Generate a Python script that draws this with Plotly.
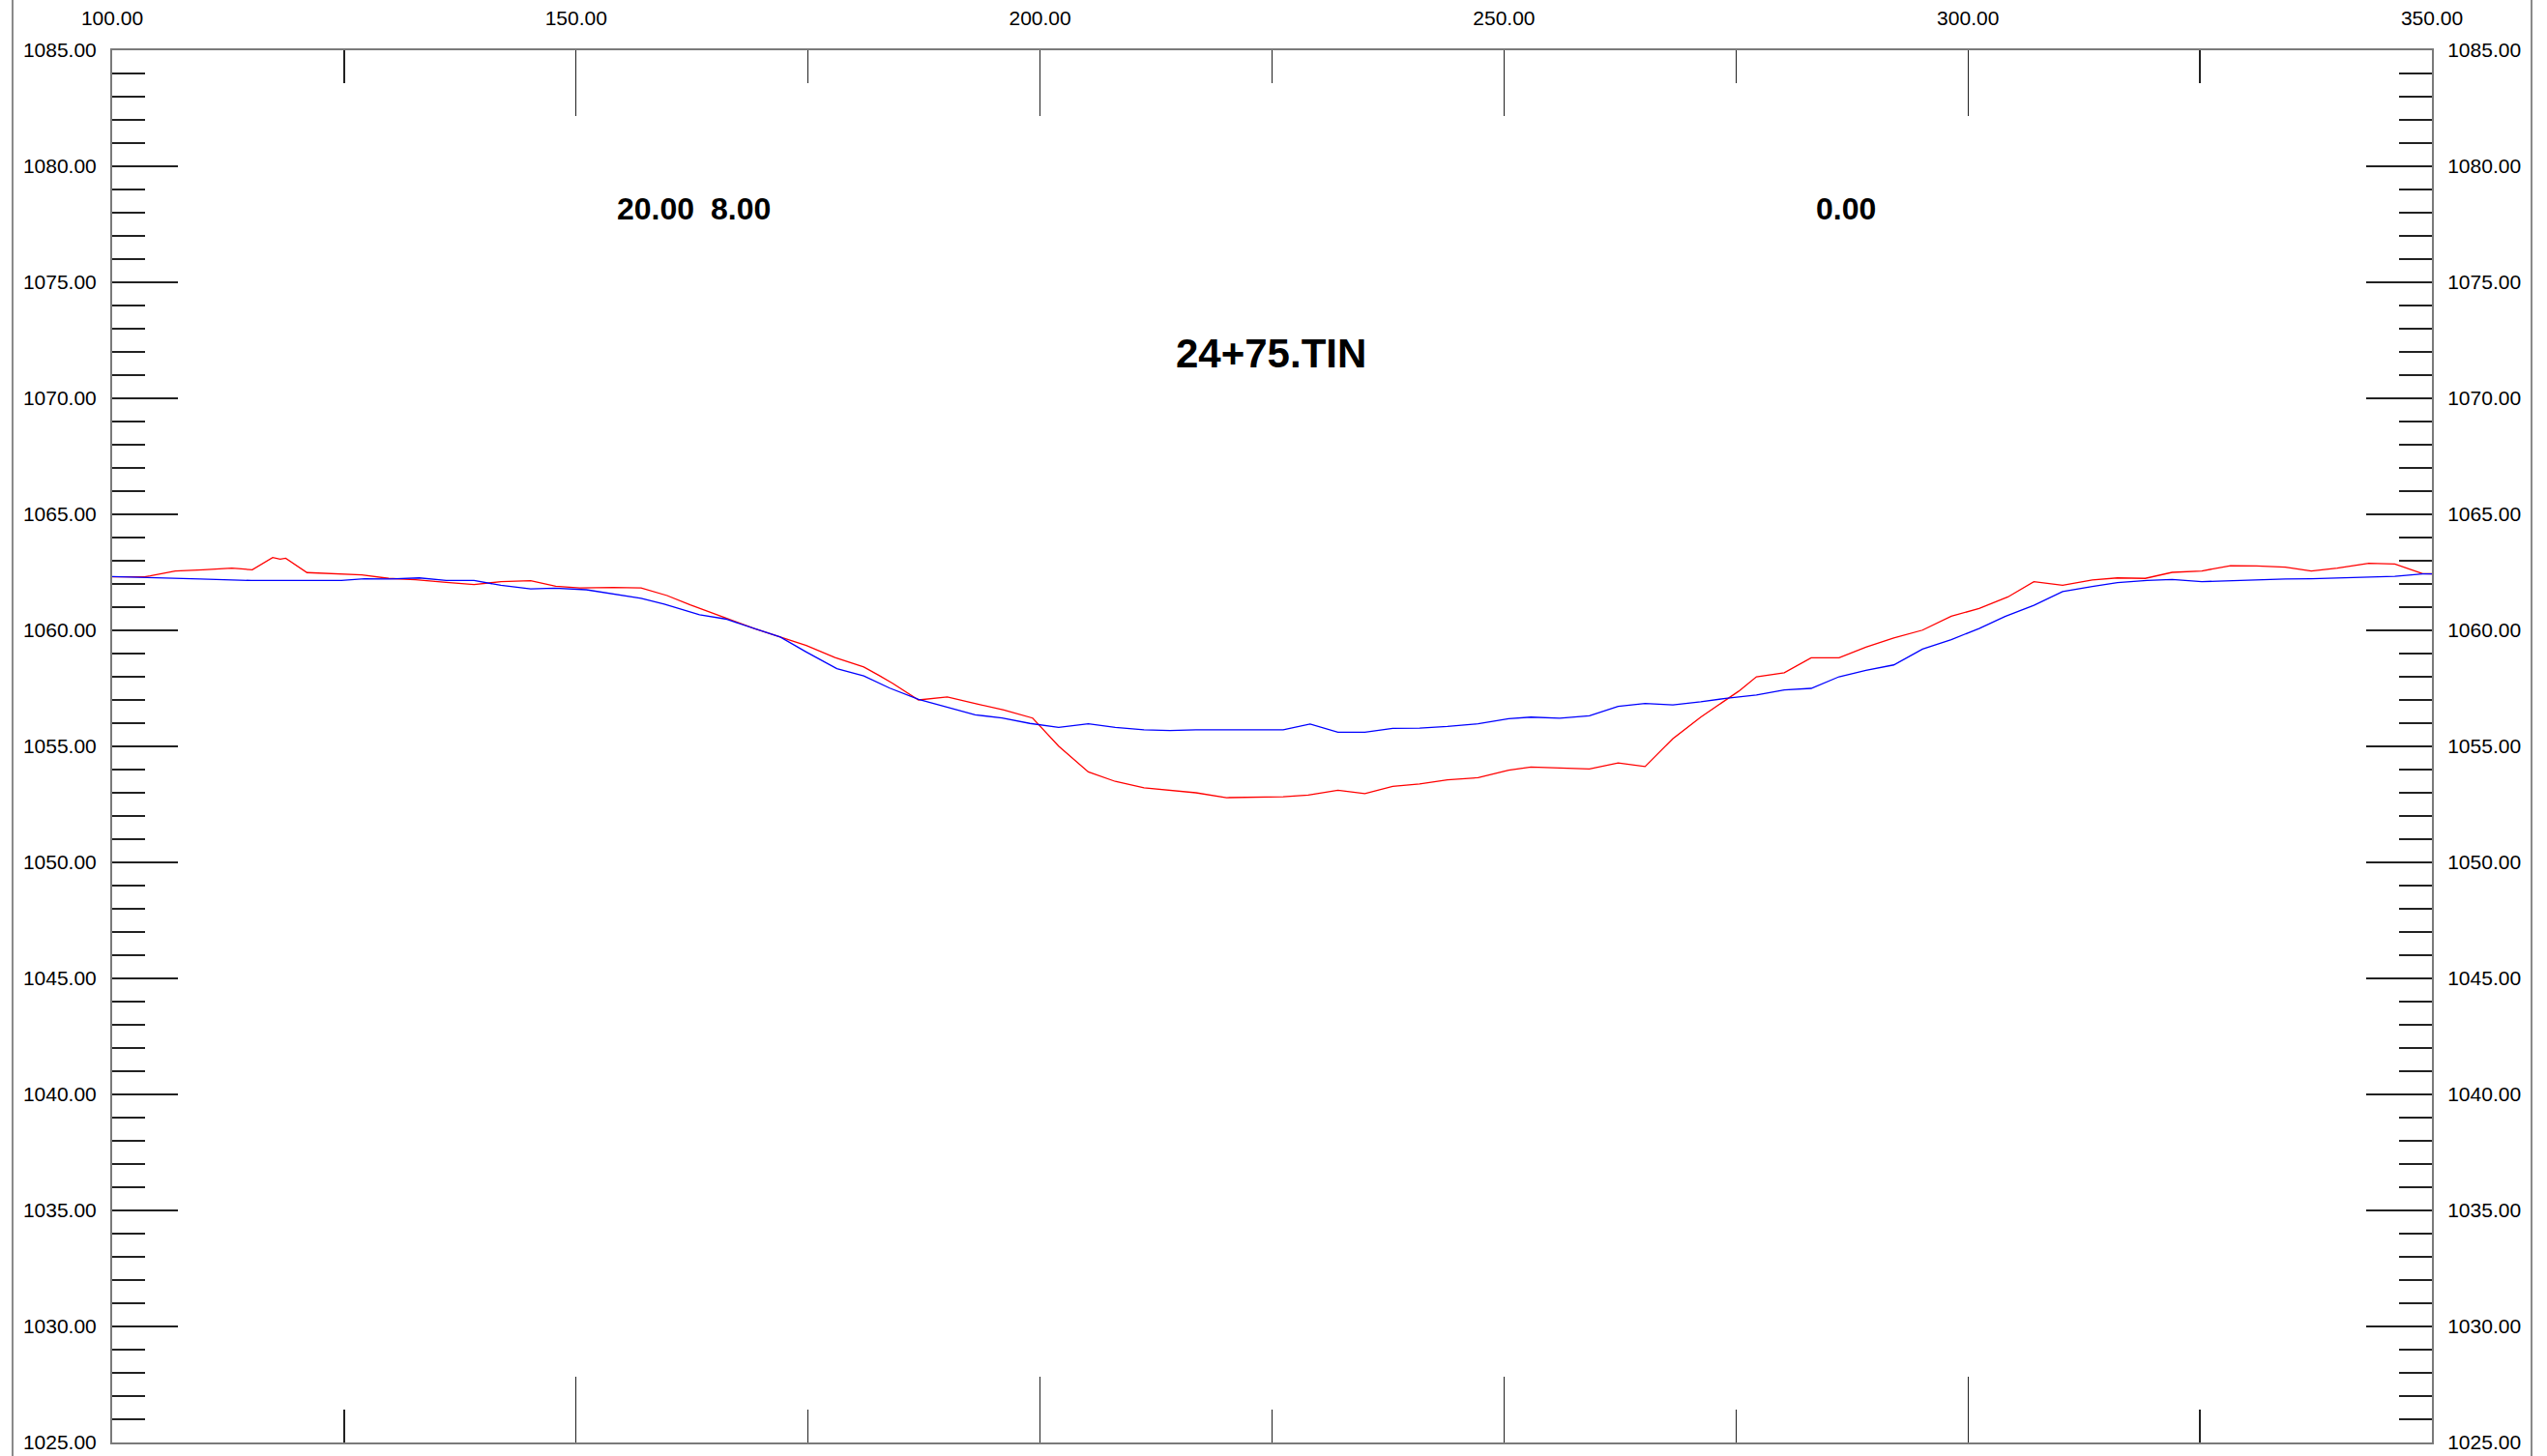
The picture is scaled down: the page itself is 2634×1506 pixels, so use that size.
import plotly.graph_objects as go

# ---- data ----
red_x = [100.0, 103.5, 104.1, 106.8, 109.8, 112.9, 115.1, 117.3, 118.1, 118.7, 121.0, 124.0, 126.9,
         129.8, 132.7, 136.0, 139.0, 141.9, 145.1, 147.8, 150.4, 154.0, 157.0, 159.8, 162.3, 166.1,
         169.2, 172.0, 174.8, 177.9, 181.0, 182.6, 184.1, 186.9, 190.0, 193.2, 196.1, 199.2, 202.0,
         205.2, 208.1, 211.2, 214.0, 216.8, 220.1, 223.0, 226.2, 228.9, 232.1, 235.0, 238.0, 240.9,
         243.9, 247.2, 250.5, 252.9, 256.0, 259.2, 262.3, 265.2, 268.2, 271.2, 273.1, 275.3, 277.2,
         280.2, 283.1, 286.1, 289.0, 292.0, 295.1, 298.2, 301.2, 304.3, 307.1, 310.2, 313.4, 316.1,
         319.1, 322.0, 325.2, 328.3, 331.1, 334.2, 337.0, 339.8, 343.2, 346.0, 349.0, 352.2]
red_y = [1062.31, 1062.31, 1062.35, 1062.56, 1062.61, 1062.68, 1062.61, 1063.14, 1063.07, 1063.11,
         1062.49, 1062.43, 1062.39, 1062.24, 1062.18, 1062.07, 1061.97, 1062.10, 1062.14, 1061.90,
         1061.83, 1061.85, 1061.83, 1061.50, 1061.10, 1060.54, 1060.08, 1059.71, 1059.35, 1058.83,
         1058.42, 1058.07, 1057.72, 1057.00, 1057.13, 1056.83, 1056.57, 1056.22, 1055.01, 1053.90,
         1053.49, 1053.21, 1053.11, 1053.00, 1052.79, 1052.82, 1052.83, 1052.90, 1053.11, 1052.96,
         1053.28, 1053.38, 1053.56, 1053.65, 1053.97, 1054.11, 1054.08, 1054.03, 1054.29, 1054.13,
         1055.33, 1056.26, 1056.78, 1057.38, 1058.00, 1058.17, 1058.82, 1058.82, 1059.28, 1059.67,
         1060.01, 1060.61, 1060.94, 1061.44, 1062.10, 1061.94, 1062.17, 1062.26, 1062.24, 1062.50,
         1062.56, 1062.79, 1062.78, 1062.72, 1062.56, 1062.68, 1062.89, 1062.86, 1062.44, 1062.43]

blue_x = [100.0, 107.2, 109.5, 115.0, 121.3, 124.7, 127.2, 129.9, 133.1, 136.0, 139.0, 141.9, 145.1,
          147.7, 151.1, 153.9, 157.0, 159.5, 163.3, 166.1, 169.2, 172.0, 174.8, 178.1, 181.0, 183.8,
          186.9, 190.0, 193.0, 195.9, 198.9, 202.0, 205.2, 208.1, 211.2, 214.0, 216.8, 220.1, 223.0,
          226.2, 229.1, 232.1, 235.0, 238.0, 240.9, 243.9, 247.2, 250.5, 252.9, 256.0, 259.2, 262.3,
          265.2, 268.2, 271.2, 274.1, 277.2, 280.2, 283.1, 286.1, 289.0, 292.0, 295.1, 298.2, 301.2,
          304.0, 307.1, 310.2, 313.4, 316.1, 319.3, 322.0, 325.2, 328.3, 334.2, 337.0, 343.2, 346.0,
          349.0, 351.6]
blue_y = [1062.32, 1062.26, 1062.21, 1062.15, 1062.17, 1062.15, 1062.22, 1062.21, 1062.26, 1062.15,
          1062.15, 1061.94, 1061.79, 1061.82, 1061.75, 1061.58, 1061.38, 1061.13, 1060.67, 1060.49,
          1060.08, 1059.71, 1059.07, 1058.35, 1058.04, 1057.51, 1057.03, 1056.68, 1056.36, 1056.22,
          1055.99, 1055.82, 1055.97, 1055.82, 1055.71, 1055.68, 1055.71, 1055.71, 1055.71, 1055.71,
          1055.96, 1055.61, 1055.61, 1055.78, 1055.79, 1055.86, 1055.97, 1056.19, 1056.26, 1056.21,
          1056.32, 1056.72, 1056.85, 1056.79, 1056.92, 1057.08, 1057.21, 1057.43, 1057.50, 1058.00,
          1058.28, 1058.51, 1059.19, 1059.60, 1060.08, 1060.60, 1061.08, 1061.67, 1061.89, 1062.06,
          1062.15, 1062.19, 1062.10, 1062.14, 1062.21, 1062.22, 1062.29, 1062.33, 1062.43, 1062.43]

x_ticks = [100, 150, 200, 250, 300, 350]
y_ticks = [1025, 1030, 1035, 1040, 1045, 1050, 1055, 1060, 1065, 1070, 1075, 1080, 1085]
x_range = [100, 350]
y_range = [1025, 1085]

section_title = "24+75.TIN"
left_labels = ["20.00", "8.00"]
right_label = "0.00"

# ---- figure ----
W, H = 2634, 1506
ML, MR, MT, MB = 116, 119, 52, 14

fig = go.Figure()
fig.add_trace(go.Scatter(x=red_x, y=red_y, mode="lines",
                         line=dict(color="#ff0000", width=1.3), showlegend=False, hoverinfo="skip"))
fig.add_trace(go.Scatter(x=blue_x, y=blue_y, mode="lines",
                         line=dict(color="#0000ff", width=1.3), showlegend=False, hoverinfo="skip"))
# anchor trace for the right-hand axis
fig.add_trace(go.Scatter(x=[None], y=[None], xaxis="x", yaxis="y2", mode="lines",
                         showlegend=False, hoverinfo="skip"))

FONT = "Liberation Sans, Arial, sans-serif"
tick_font = dict(family=FONT, size=21, color="#000000")
LINE_C = "#7a7a7a"
TICK_C = "#222222"

fig.update_layout(
    width=W, height=H, autosize=False,
    margin=dict(l=ML, r=MR, t=MT, b=MB, pad=0),
    paper_bgcolor="white", plot_bgcolor="white",
    showlegend=False,
    xaxis=dict(
        range=x_range, side="top", showgrid=False, zeroline=False, automargin=False,
        tickmode="array", tickvals=x_ticks, ticktext=[f"{v:.2f}" for v in x_ticks],
        ticks="inside", ticklen=68, tickwidth=1.3, tickcolor=TICK_C,
        minor=dict(ticks="inside", ticklen=34, tickwidth=1.3, tickcolor=TICK_C,
                   tick0=100, dtick=25, showgrid=False),
        showline=True, linecolor=LINE_C, linewidth=2, mirror="ticks",
        tickfont=tick_font, ticklabelstandoff=16, fixedrange=True,
    ),
    yaxis=dict(
        range=y_range, side="left", showgrid=False, zeroline=False, automargin=False,
        tickmode="array", tickvals=y_ticks, ticktext=[f"{v:.2f}" for v in y_ticks],
        ticks="inside", ticklen=68, tickwidth=1.3, tickcolor=TICK_C,
        minor=dict(ticks="inside", ticklen=34, tickwidth=1.3, tickcolor=TICK_C,
                   tick0=1025, dtick=1, showgrid=False),
        showline=True, linecolor=LINE_C, linewidth=2,
        tickfont=tick_font, ticklabelstandoff=10, fixedrange=True,
    ),
    yaxis2=dict(
        range=y_range, side="right", overlaying="y", anchor="x", showgrid=False, zeroline=False,
        automargin=False,
        tickmode="array", tickvals=y_ticks, ticktext=[f"{v:.2f}" for v in y_ticks],
        ticks="inside", ticklen=68, tickwidth=1.3, tickcolor=TICK_C,
        minor=dict(ticks="inside", ticklen=34, tickwidth=1.3, tickcolor=TICK_C,
                   tick0=1025, dtick=1, showgrid=False),
        showline=True, linecolor=LINE_C, linewidth=2,
        tickfont=tick_font, ticklabelstandoff=10, fixedrange=True,
    ),
)

# page frame lines (left and right edges)
plot_w = W - ML - MR
plot_h = H - MT - MB
def px_to_paper_x(px):
    return (px - ML) / plot_w
def px_to_paper_y(py):
    return (H - MB - py) / plot_h

for xp in (13, 2618):
    fig.add_shape(type="line", xref="paper", yref="paper",
                  x0=px_to_paper_x(xp), x1=px_to_paper_x(xp),
                  y0=px_to_paper_y(0), y1=px_to_paper_y(H),
                  line=dict(color="#8a8a8a", width=2), layer="above")

bold = dict(family=FONT, size=32, color="#000000", weight="bold")
fig.add_annotation(x=154.2, y=1078.15, xref="x", yref="y", text=left_labels[0],
                   showarrow=False, xanchor="left", yanchor="middle", font=bold)
fig.add_annotation(x=164.3, y=1078.15, xref="x", yref="y", text=left_labels[1],
                   showarrow=False, xanchor="left", yanchor="middle", font=bold)
fig.add_annotation(x=283.4, y=1078.15, xref="x", yref="y", text=right_label,
                   showarrow=False, xanchor="left", yanchor="middle", font=bold)
fig.add_annotation(x=224.9, y=1071.95, xref="x", yref="y", text=section_title,
                   showarrow=False, xanchor="center", yanchor="middle",
                   font=dict(family=FONT, size=42, color="#000000", weight="bold"))

fig.write_html("out.html",
               config={"displayModeBar": False, "staticPlot": True},
               post_script="document.body.style.margin='0px';document.body.style.overflow='hidden';")
